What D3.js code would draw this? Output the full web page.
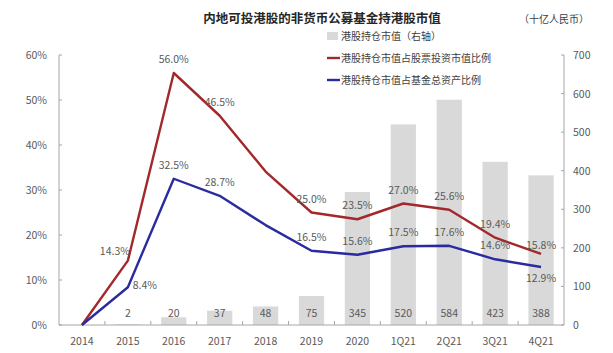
<!DOCTYPE html>
<html>
<head>
<meta charset="utf-8">
<script src="https://cdn.jsdelivr.net/npm/d3@7"></script>
<style>
  body { margin: 0; background: #fff; }
  svg text { font-family: "Noto Sans CJK SC", "Noto Sans", sans-serif; }
</style>
</head>
<body>
<div id="chart"></div>
<script>
const categories = ["2014", "2015", "2016", "2017", "2018", "2019", "2020", "1Q21", "2Q21", "3Q21", "4Q21"];
const holdings = [0, 2, 20, 37, 48, 75, 345, 520, 584, 423, 388];
const stockShare = [0, 14.3, 56.0, 46.5, 34.1, 25.0, 23.5, 27.0, 25.6, 19.4, 15.8];
const assetShare = [0, 8.4, 32.5, 28.7, 22.2, 16.5, 15.6, 17.5, 17.6, 14.6, 12.9];
// which points get a label, and where
const stockLabelPos = [null, "left", "up", "up", null, "up", "up", "up", "up", "up", "upsmall"];
const assetLabelPos = [null, "right", "up", "up", null, "up", "up", "up", "up", "up", "down"];
const leftTicks = [0, 10, 20, 30, 40, 50, 60];
const rightTicks = [0, 100, 200, 300, 400, 500, 600, 700];

const legendItems = [
  { key: "bar", label: "港股持仓市值（右轴）", color: "#d9d9d9" },
  { key: "stock", label: "港股持仓市值占股票投资市值比例", color: "#a3282b" },
  { key: "asset", label: "港股持仓市值占基金总资产比例", color: "#2b2ba0" }
];

const width = 613, height = 353;
const plotLeft = 59, plotRight = 564, plotTop = 55, plotBottom = 325;

const svg = d3.select("#chart").append("svg")
  .attr("width", width)
  .attr("height", height);

const x = d3.scaleBand().domain(categories).range([plotLeft, plotRight]).paddingInner(0.45).paddingOuter(0.225);
const xStep = d3.scaleBand().domain(categories).range([plotLeft, plotRight]);
const yL = d3.scaleLinear().domain([0, 60]).range([plotBottom, plotTop]);
const yR = d3.scaleLinear().domain([0, 700]).range([plotBottom, plotTop]);

// bars
svg.selectAll("rect.bar")
  .data(holdings)
  .enter().append("rect")
  .attr("class", "bar")
  .attr("x", (d, i) => x(categories[i]))
  .attr("width", x.bandwidth())
  .attr("y", d => yR(d))
  .attr("height", d => plotBottom - yR(d))
  .attr("fill", "#d9d9d9");

holdings.forEach((d, i) => {
  if (i === 0) return;
  svg.append("text")
    .attr("x", xStep(categories[i]) + xStep.bandwidth() / 2)
    .attr("y", 317)
    .attr("text-anchor", "middle")
    .attr("font-size", 10.5)
    .attr("fill", "#595959")
    .text(d);
});

// axes
const axisColor = "#a6a6a6";
svg.append("line").attr("x1", plotLeft).attr("x2", plotLeft).attr("y1", plotTop).attr("y2", plotBottom).attr("stroke", axisColor);
svg.append("line").attr("x1", plotRight).attr("x2", plotRight).attr("y1", plotTop).attr("y2", plotBottom).attr("stroke", axisColor);
svg.append("line").attr("x1", plotLeft).attr("x2", plotRight).attr("y1", plotBottom).attr("y2", plotBottom).attr("stroke", axisColor);

leftTicks.forEach(t => {
  svg.append("line").attr("x1", plotLeft).attr("x2", plotLeft + 3).attr("y1", yL(t)).attr("y2", yL(t)).attr("stroke", axisColor);
  svg.append("text").attr("x", 47).attr("y", yL(t) + 4).attr("text-anchor", "end")
    .attr("font-size", 10.5).attr("fill", "#595959").text(t + "%");
});
rightTicks.forEach(t => {
  svg.append("line").attr("x1", plotRight - 3).attr("x2", plotRight).attr("y1", yR(t)).attr("y2", yR(t)).attr("stroke", axisColor);
  svg.append("text").attr("x", 573).attr("y", yR(t) + 4).attr("text-anchor", "start")
    .attr("font-size", 10.5).attr("fill", "#595959").text(t);
});
categories.forEach((c, i) => {
  if (i > 0) {
    svg.append("line").attr("x1", xStep(c)).attr("x2", xStep(c)).attr("y1", plotBottom - 4).attr("y2", plotBottom).attr("stroke", axisColor);
  }
  svg.append("text").attr("x", xStep(c) + xStep.bandwidth() / 2).attr("y", 345)
    .attr("text-anchor", "middle").attr("font-size", 10.5).attr("fill", "#595959").text(c);
});

// lines
const cx = i => xStep(categories[i]) + xStep.bandwidth() / 2;
function drawLine(values, color) {
  const line = d3.line().x((d, i) => cx(i)).y(d => yL(d));
  svg.append("path").datum(values).attr("d", line)
    .attr("fill", "none").attr("stroke", color).attr("stroke-width", 2.4).attr("stroke-linejoin", "round");
}
drawLine(stockShare, legendItems[1].color);
drawLine(assetShare, legendItems[2].color);

function drawLabels(values, pos) {
  values.forEach((v, i) => {
    const p = pos[i];
    if (!p) return;
    let dx = 0, dy = -10;
    if (p === "left") { dx = -13; dy = -6; }
    if (p === "right") { dx = 17; dy = 2; }
    if (p === "down") { dy = 15; }
    if (p === "upsmall") { dy = -5; }
    svg.append("text").attr("x", cx(i) + dx).attr("y", yL(v) + dy)
      .attr("text-anchor", "middle").attr("font-size", 10.5).attr("fill", "#595959")
      .text(v.toFixed(1) + "%");
  });
}
drawLabels(stockShare, stockLabelPos);
drawLabels(assetShare, assetLabelPos);

// title
svg.append("text").attr("x", 322).attr("y", 23).attr("text-anchor", "middle")
  .attr("font-size", 12.5).attr("font-weight", "bold").attr("fill", "#262626")
  .text("内地可投港股的非货币公募基金持港股市值");
svg.append("text").attr("x", 554).attr("y", 23).attr("text-anchor", "middle")
  .attr("font-size", 10).attr("fill", "#404040").text("（十亿人民币）");

// legend
const legendY = [36, 58, 80];
legendItems.forEach((item, i) => {
  if (item.key === "bar") {
    svg.append("rect").attr("x", 327).attr("y", legendY[i] - 4).attr("width", 11).attr("height", 8).attr("fill", item.color);
  } else {
    svg.append("line").attr("x1", 327).attr("x2", 340).attr("y1", legendY[i]).attr("y2", legendY[i])
      .attr("stroke", item.color).attr("stroke-width", 2.4);
  }
  svg.append("text").attr("x", 341).attr("y", legendY[i] + 4).attr("font-size", 10)
    .attr("fill", "#404040").text(item.label);
});
</script>
</body>
</html>
